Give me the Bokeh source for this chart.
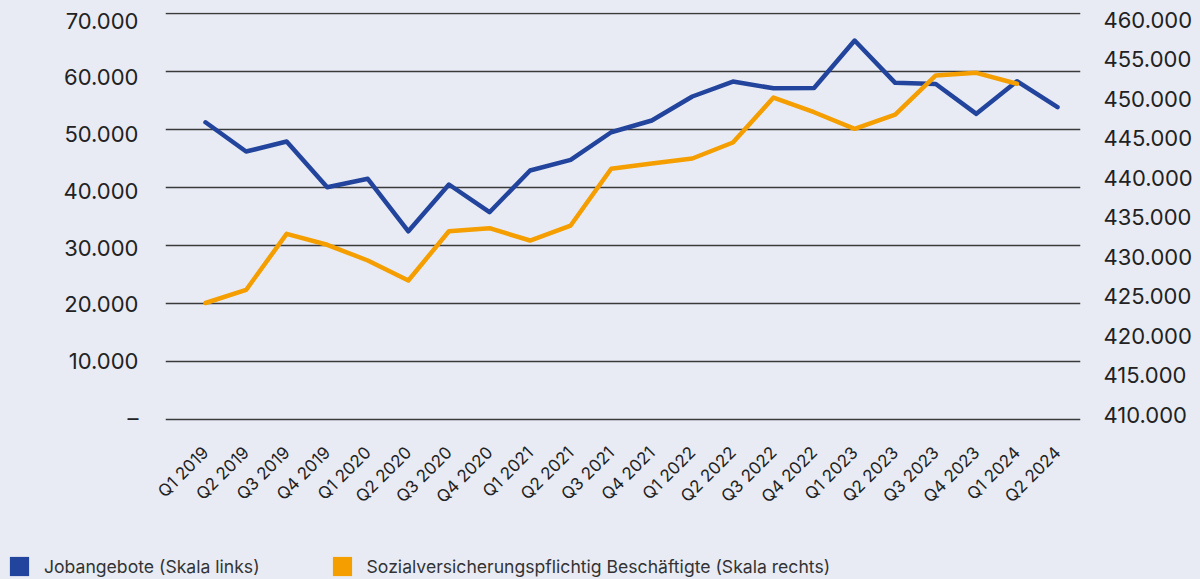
import math
from bokeh.plotting import figure
from bokeh.models import (Range1d, LinearAxis, FixedTicker, Grid, Legend, LegendItem)
from bokeh.embed import file_html
from bokeh.resources import INLINE

# ---------------- data ----------------
quarters = ["Q1 2019", "Q2 2019", "Q3 2019", "Q4 2019",
            "Q1 2020", "Q2 2020", "Q3 2020", "Q4 2020",
            "Q1 2021", "Q2 2021", "Q3 2021", "Q4 2021",
            "Q1 2022", "Q2 2022", "Q3 2022", "Q4 2022",
            "Q1 2023", "Q2 2023", "Q3 2023", "Q4 2023",
            "Q1 2024", "Q2 2024"]

# Jobangebote (left scale)
jobangebote = [51300, 46250, 47980, 40100,
               41550, 32500, 40570, 35790,
               42980, 44820, 49580, 51600,
               55740, 58320, 57150, 57200,
               65390, 58100, 57900, 52750,
               58380, 53900]

# Sozialversicherungspflichtig Beschäftigte (right scale), until Q1 2024
beschaeftigte = [424150, 425800, 432910, 431520,
                 429530, 427000, 433240, 433620,
                 432060, 433960, 441140, 441810,
                 442440, 444470, 450160, 448300,
                 446200, 448010, 452950, 453290,
                 451900]

left_tick_values = [0, 10000, 20000, 30000, 40000, 50000, 60000, 70000]
left_tick_labels = ["–", "10.000", "20.000", "30.000", "40.000", "50.000", "60.000", "70.000"]

right_tick_values = [410000, 415000, 420000, 425000, 430000, 435000,
                     440000, 445000, 450000, 455000, 460000]
right_tick_labels = ["410.000", "415.000", "420.000", "425.000", "430.000", "435.000",
                     "440.000", "445.000", "450.000", "455.000", "460.000"]

legend_labels = ["Jobangebote (Skala links)",
                 "Sozialversicherungspflichtig Beschäftigte (Skala rechts)"]

# ---------------- style ----------------
BG = "#E8EBF4"
BLUE = "#22449C"
ORANGE = "#F59E00"
GRID = "#3a3a3a"
TXT = "#222222"
FONT = "Inter"

x_idx = list(range(len(quarters)))

p = figure(width=1200, height=540,
           x_range=Range1d(-0.986, 21.567), y_range=Range1d(-293, 70224),
           x_axis_location=None, y_axis_location=None,
           toolbar_location=None, output_backend="svg",
           background_fill_color=BG, border_fill_color=BG, outline_line_color=None,
           min_border_left=165, min_border_right=120, min_border_top=12, min_border_bottom=119)

p.extra_y_ranges = {"lab_left": Range1d(-652, 71410),
                    "right": Range1d(409152, 460924)}

for g in p.select(type=Grid):
    g.visible = False
grid = Grid(dimension=1, ticker=FixedTicker(ticks=left_tick_values),
            grid_line_color=GRID, grid_line_width=1.3)
p.add_layout(grid)

def style_axis(ax, standoff, size):
    ax.axis_line_color = None
    ax.major_tick_line_color = None
    ax.minor_tick_line_color = None
    ax.major_tick_out = 0
    ax.major_tick_in = 0
    ax.minor_tick_out = 0
    ax.minor_tick_in = 0
    ax.major_label_standoff = standoff
    ax.major_label_text_font = FONT
    ax.major_label_text_font_size = size
    ax.major_label_text_color = TXT

yl = LinearAxis(y_range_name="lab_left", ticker=FixedTicker(ticks=left_tick_values),
                major_label_overrides=dict(zip(left_tick_values, left_tick_labels)))
style_axis(yl, 27, "22px")
p.add_layout(yl, "left")

yr = LinearAxis(y_range_name="right", ticker=FixedTicker(ticks=right_tick_values),
                major_label_overrides=dict(zip(right_tick_values, right_tick_labels)))
style_axis(yr, 23, "22px")
p.add_layout(yr, "right")

xb = LinearAxis(ticker=FixedTicker(ticks=x_idx),
                major_label_overrides=dict(zip(x_idx, quarters)),
                major_label_orientation=math.pi / 4)
style_axis(xb, 28, "17px")
p.add_layout(xb, "below")

p.line(x_idx, jobangebote, line_color=BLUE, line_width=4.5,
       line_join="round", line_cap="round")
p.line(x_idx[:len(beschaeftigte)], beschaeftigte, y_range_name="right",
       line_color=ORANGE, line_width=4.5, line_join="round", line_cap="round")

# ---------------- legend strip (separate root, full-width frame) ----------------
q = figure(width=1200, height=39, x_range=Range1d(0, 1), y_range=Range1d(0, 1),
           x_axis_location=None, y_axis_location=None,
           toolbar_location=None, output_backend="svg",
           background_fill_color=BG, border_fill_color=BG, outline_line_color=None,
           min_border_left=0, min_border_right=0, min_border_top=0, min_border_bottom=0)
for g in q.select(type=Grid):
    g.visible = False

nan = float("nan")
r_blue = q.quad(left=[nan], right=[nan], top=[nan], bottom=[nan],
                fill_color=BLUE, line_color=None)
r_orange = q.quad(left=[nan], right=[nan], top=[nan], bottom=[nan],
                  fill_color=ORANGE, line_color=None)

legend = Legend(items=[LegendItem(label=legend_labels[0], renderers=[r_blue]),
                       LegendItem(label=legend_labels[1], renderers=[r_orange])],
                location=(7, 1), orientation="horizontal",
                padding=0, margin=0, spacing=70,
                glyph_width=24, glyph_height=24, label_standoff=13,
                label_text_font=FONT, label_text_font_size="17.6px",
                label_text_color="#333333",
                background_fill_alpha=0, border_line_color=None)
q.add_layout(legend)

html = file_html([p, q], INLINE, title="Jobangebote")
html = html.replace("</head>", "<style>html,body{background:%s;}</style></head>" % BG, 1)
with open("out.html", "w") as f:
    f.write(html)
